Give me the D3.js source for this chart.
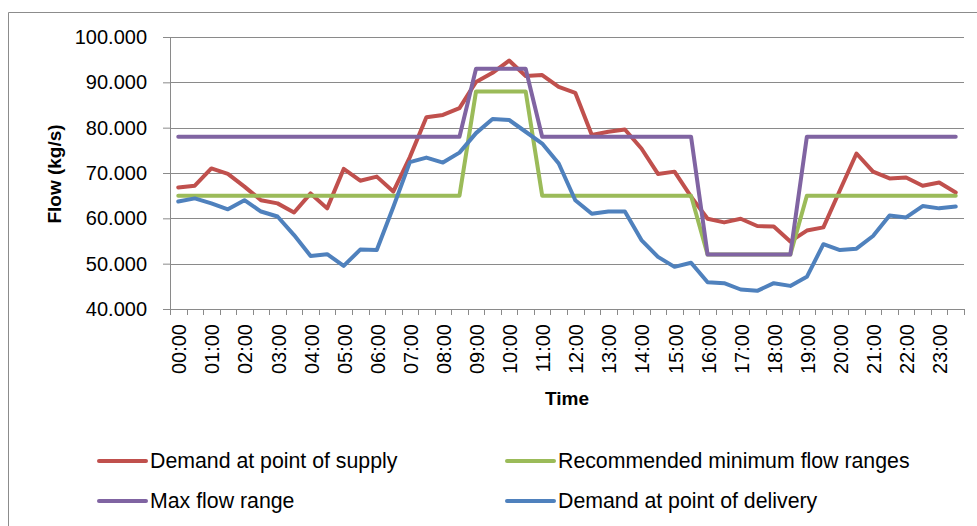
<!DOCTYPE html>
<html lang="en">
  <head>
    <meta charset="utf-8">
    <title>Flow demand</title>
    <script src="https://d3js.org/d3.v7.js"></script>
    <style>
      html, body { margin: 0; padding: 0; background: #fff; overflow: hidden; }
      svg { display: block; }
      text { font-family: "Liberation Sans", Arial, sans-serif; fill: #000; }
    </style>
  </head>
  <body>
    <script>
  var w = 977;
  var h = 526;
  var margin = {top: 37, right: 13, bottom: 217, left: 170};

  // hour labels shown on the x axis (one every two half-hour slots)
  var hourLabels = ["00:00","01:00","02:00","03:00","04:00","05:00","06:00","07:00",
    "08:00","09:00","10:00","11:00","12:00","13:00","14:00","15:00",
    "16:00","17:00","18:00","19:00","20:00","21:00","22:00","23:00"];

  // half-hourly categories
  var times = [];
  hourLabels.forEach(function (hl) {
    times.push(hl);
    times.push(hl.slice(0, 3) + "30");
  });

  var yTicks = [40, 50, 60, 70, 80, 90, 100];

  var seriesNames = ["Demand at point of supply", "Recommended minimum flow ranges",
    "Max flow range", "Demand at point of delivery"];

  var supply = [66.8, 67.2, 71.0, 69.8, 67.0, 64.0, 63.3, 61.3, 65.5, 62.2, 70.9, 68.3,
    69.2, 65.9, 73.5, 82.3, 82.8, 84.3, 90.1, 92.1, 94.8, 91.4, 91.6, 89.0,
    87.7, 78.4, 79.1, 79.6, 75.4, 69.8, 70.3, 64.8, 59.9, 59.1, 59.9, 58.3,
    58.2, 54.9, 57.3, 58.0, 66.2, 74.3, 70.3, 68.8, 69.0, 67.2, 67.9, 65.7];

  var minFlow = [65, 65, 65, 65, 65, 65, 65, 65, 65, 65, 65, 65,
    65, 65, 65, 65, 65, 65, 88, 88, 88, 88, 65, 65,
    65, 65, 65, 65, 65, 65, 65, 65, 52, 52, 52, 52,
    52, 52, 65, 65, 65, 65, 65, 65, 65, 65, 65, 65];

  var maxFlow = [78, 78, 78, 78, 78, 78, 78, 78, 78, 78, 78, 78,
    78, 78, 78, 78, 78, 78, 93, 93, 93, 93, 78, 78,
    78, 78, 78, 78, 78, 78, 78, 78, 52, 52, 52, 52,
    52, 52, 78, 78, 78, 78, 78, 78, 78, 78, 78, 78];

  var delivery = [63.7, 64.4, 63.3, 62.0, 64.0, 61.5, 60.4, 56.3, 51.7, 52.1, 49.5, 53.1,
    53.0, 62.5, 72.4, 73.4, 72.3, 74.5, 78.8, 81.9, 81.7, 79.1, 76.5, 72.1,
    64.0, 61.0, 61.5, 61.5, 55.2, 51.5, 49.3, 50.2, 45.9, 45.7, 44.3, 44.0,
    45.7, 45.1, 47.1, 54.3, 53.0, 53.3, 56.1, 60.6, 60.2, 62.7, 62.2, 62.6];

  var colors = ["#C0504D", "#9BBB59", "#8064A2", "#4F81BD"];
  var allSeries = [supply, minFlow, maxFlow, delivery];

  var innerWidth = w - margin.left - margin.right;
  var innerHeight = h - margin.top - margin.bottom;

  var svg = d3.select("body")
    .append("svg")
    .attr("width", w)
    .attr("height", h);

  // chart border (right and bottom sides run past the picture)
  svg.append("path")
    .attr("d", "M8.5," + h + "V12.5H" + w)
    .attr("fill", "none")
    .attr("stroke", "#8c8c8c");

  var xScale = d3.scaleBand()
    .domain(times)
    .range([margin.left, margin.left + innerWidth]);

  var yScale = d3.scaleLinear()
    .domain([40, 100])
    .range([margin.top + innerHeight, margin.top]);

  var bw = xScale.bandwidth();
  var x0 = margin.left, x1 = margin.left + innerWidth;
  var yBase = margin.top + innerHeight;

  // gridlines
  svg.selectAll(".grid")
    .data(yTicks.slice(1))
    .enter()
    .append("line")
    .attr("x1", x0).attr("x2", x1)
    .attr("y1", function (d) { return Math.round(yScale(d)) + 0.5; })
    .attr("y2", function (d) { return Math.round(yScale(d)) + 0.5; })
    .attr("stroke", "#8a8a8a")
    .attr("stroke-width", 1);

  // y axis
  var yAxis = d3.axisLeft(yScale)
    .tickValues(yTicks)
    .tickSize(7)
    .tickPadding(16)
    .tickFormat(d3.format(".3f"));
  var yg = svg.append("g")
    .attr("transform", "translate(" + x0 + ",0)")
    .call(yAxis)
    .attr("font-size", 20)
    .attr("font-family", "Liberation Sans, Arial, sans-serif");
  yg.select(".domain").attr("stroke", "#8a8a8a");
  yg.selectAll(".tick line").attr("stroke", "#8a8a8a");

  // x axis: line, tick marks at category boundaries, hour labels
  svg.append("line")
    .attr("x1", x0).attr("x2", x1)
    .attr("y1", yBase + 0.5).attr("y2", yBase + 0.5)
    .attr("stroke", "#8a8a8a");
  svg.selectAll(".xt")
    .data(d3.range(times.length + 1))
    .enter()
    .append("line")
    .attr("x1", function (i) { return Math.round(x0 + i * bw) + 0.5; })
    .attr("x2", function (i) { return Math.round(x0 + i * bw) + 0.5; })
    .attr("y1", yBase).attr("y2", yBase + 6)
    .attr("stroke", "#8a8a8a");
  svg.selectAll(".xl")
    .data(hourLabels)
    .enter()
    .append("text")
    .attr("text-anchor", "end")
    .attr("font-size", 20)
    .attr("dy", "0.35em")
    .attr("transform", function (d) {
      return "translate(" + (xScale(d) + bw / 2 + 1) + "," + (yBase + 15) + ") rotate(-90)";
    })
    .text(function (d) { return d; });

  // axis titles
  svg.append("text")
    .attr("x", 567).attr("y", 405)
    .attr("text-anchor", "middle")
    .attr("font-size", 19)
    .style("font-weight", "bold")
    .text("Time");
  svg.append("text")
    .attr("transform", "translate(61,174) rotate(-90)")
    .attr("text-anchor", "middle")
    .attr("font-size", 19)
    .style("font-weight", "bold")
    .text("Flow (kg/s)");

  // series lines
  var line = d3.line()
    .x(function (d, i) { return xScale(times[i]) + bw / 2; })
    .y(function (d) { return yScale(d); });

  allSeries.forEach(function (s, k) {
    svg.append("path")
      .datum(s)
      .attr("d", line)
      .attr("fill", "none")
      .attr("stroke", colors[k])
      .attr("stroke-width", 4)
      .attr("stroke-linejoin", "round")
      .attr("stroke-linecap", "round");
  });

  // legend
  var legendPos = [[97, 461], [505, 461], [97, 501], [505, 501]];
  seriesNames.forEach(function (name, k) {
    var lg = svg.append("g")
      .attr("transform", "translate(" + legendPos[k][0] + "," + legendPos[k][1] + ")");
    lg.append("line")
      .attr("x1", 2).attr("x2", 49)
      .attr("y1", 0).attr("y2", 0)
      .attr("stroke", colors[k])
      .attr("stroke-width", 4)
      .attr("stroke-linecap", "round");
    lg.append("text")
      .attr("x", 53).attr("y", 0)
      .attr("dy", "0.35em")
      .attr("font-size", 21.3)
      .text(name);
  });
    </script>
  </body>
</html>
